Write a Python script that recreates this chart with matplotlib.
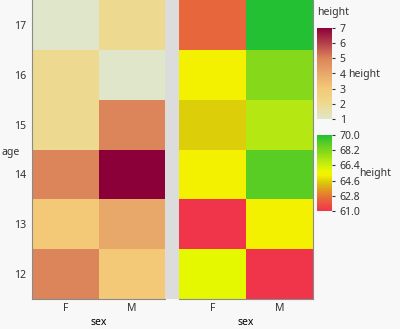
import numpy as np
import matplotlib
matplotlib.use("Agg")
import matplotlib.pyplot as plt
from matplotlib.colors import LinearSegmentedColormap, Normalize
from matplotlib.colorbar import ColorbarBase

plt.rcParams['font.family'] = ['Noto Sans', 'DejaVu Sans']
plt.rcParams['font.size'] = 7.5
plt.rcParams['text.color'] = '#333333'
plt.rcParams['xtick.color'] = '#333333'
plt.rcParams['ytick.color'] = '#333333'

# data
ages = [12, 13, 14, 15, 16, 17]
sexes = ['F', 'M']
count_f = [5, 3, 5, 2, 2, 1]
count_m = [3, 4, 7, 5, 1, 2]
height_f = [65.8, 61.0, 65.3, 64.5, 65.3, 62.4]
height_m = [61.0, 65.3, 69.0, 67.0, 68.0, 70.0]

count_ticks = [1, 2, 3, 4, 5, 6, 7]
height_ticks = [61.0, 62.8, 64.6, 66.4, 68.2, 70.0]

bg = '#f8f8f8'
W, H = 400, 329

cmap_count = LinearSegmentedColormap.from_list('count', [
    (0.0, '#e0e6c9'), (1/6, '#eed98f'), (2/6, '#f3c977'),
    (3/6, '#e8a86a'), (4/6, '#dc845a'), (5/6, '#b4404a'), (1.0, '#8c0039')])
cmap_height = LinearSegmentedColormap.from_list('height', [
    (0.0, '#f0344a'), (0.16, '#e8683a'), (0.28, '#e09a20'), (0.39, '#dcd00a'),
    (0.47, '#f5f000'), (0.533, '#e6f800'), (0.66, '#b8e812'), (0.78, '#86d81a'),
    (0.9, '#55cc25'), (1.0, '#22c032')])
norm_count = Normalize(1, 7)
norm_height = Normalize(61, 70)

fig = plt.figure(figsize=(W / 100, H / 100), dpi=100, facecolor=bg)

def fig_rect(x0, y0, x1, y1):
    return [x0 / W, 1 - y1 / H, (x1 - x0) / W, (y1 - y0) / H]

ax1 = fig.add_axes(fig_rect(32, 0, 165, 299))
ax_gap = fig.add_axes(fig_rect(165, 0, 179, 299))
ax2 = fig.add_axes(fig_rect(179, 0, 313, 299))

counts = np.column_stack([count_f, count_m])
heights = np.column_stack([height_f, height_m])

ax1.pcolormesh(np.arange(3), np.arange(7), counts, cmap=cmap_count, norm=norm_count)
ax2.pcolormesh(np.arange(3), np.arange(7), heights, cmap=cmap_height, norm=norm_height)

for ax in (ax1, ax2):
    ax.set_xlim(0, 2)
    ax.set_ylim(0, 6)
    ax.set_xticks([0.5, 1.5])
    ax.set_xticklabels(sexes)
    ax.set_xlabel('sex', labelpad=2)
    ax.tick_params(length=0, pad=3, colors='#333333')
    for s in ax.spines.values():
        s.set_visible(False)
    ax.spines['bottom'].set_visible(True)
    ax.spines['bottom'].set_color('#8a8a8a')

ax1.spines['left'].set_visible(True)
ax1.spines['left'].set_color('#8a8a8a')
ax1.set_yticks(np.arange(6) + 0.5)
ax1.set_yticklabels([str(a) for a in ages])
ax1.tick_params(axis='y', pad=4)
ax2.set_yticks([])
ax2.spines['right'].set_visible(True)
ax2.spines['right'].set_color('#8a8a8a')
fig.text(1 / W, 1 - 152 / H, 'age', va='center', ha='left')

ax_gap.set_facecolor('#dcdcdc')
ax_gap.set_xticks([])
ax_gap.set_yticks([])
for s in ax_gap.spines.values():
    s.set_visible(False)

# colour legends
cax1 = fig.add_axes(fig_rect(317, 28, 332, 119))
cb1 = ColorbarBase(cax1, cmap=cmap_count, norm=norm_count, ticks=count_ticks)
cax2 = fig.add_axes(fig_rect(317, 135, 332, 211))
cb2 = ColorbarBase(cax2, cmap=cmap_height, norm=norm_height, ticks=height_ticks)
cb2.ax.set_yticklabels([f'{t:.1f}' for t in height_ticks])

for cb, cm, nm in ((cb1, cmap_count, norm_count), (cb2, cmap_height, norm_height)):
    cb.outline.set_visible(False)
    cb.ax.tick_params(length=2.5, width=0.8, pad=3)
    for t, v in zip(cb.ax.yaxis.get_major_ticks(), cb.get_ticks()):
        t.tick2line.set_color(cm(nm(v)))

fig.text(317 / W, 1 - 12 / H, 'height', va='center', ha='left')
fig.text(348 / W, 1 - 74 / H, 'height', va='center', ha='left')
fig.text(359 / W, 1 - 173 / H, 'height', va='center', ha='left')

fig.savefig('out.png', dpi=100, facecolor=bg)
